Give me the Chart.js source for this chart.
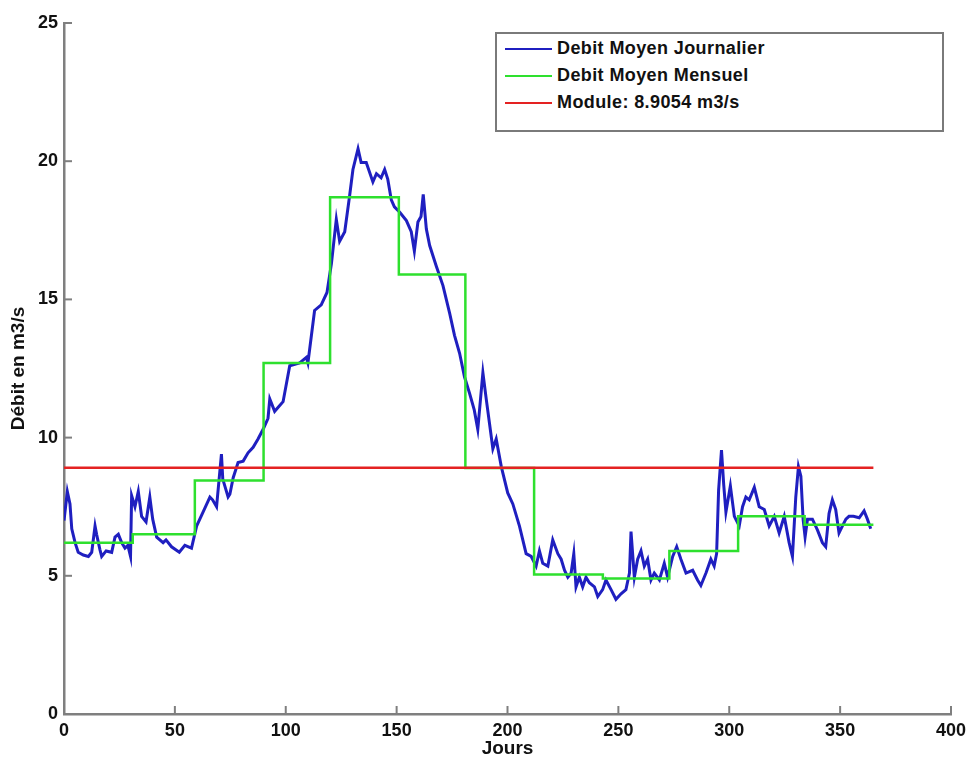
<!DOCTYPE html>
<html>
<head>
<meta charset="utf-8">
<script src="https://cdn.jsdelivr.net/npm/chart.js@4"></script>
<style>
  body { margin: 0; background: #fff; }
  #wrap { position: relative; width: 968px; height: 760px; }
  #legend {
    position: absolute; left: 495px; top: 32px; width: 445px; height: 95px;
    border: 2px solid #7a7a7a; background: #fff; padding-top: 1px;
    font: bold 18px "Liberation Sans", Arial, sans-serif; color: #111; letter-spacing: 0.4px;
  }
  #legend .row { height: 27px; line-height: 27px; white-space: nowrap; }
  #legend .swatch { display: inline-block; width: 47px; height: 2px; margin: 0 5px 0 8px; vertical-align: middle; }
</style>
</head>
<body>
<div id="wrap">
  <canvas id="debitChart" width="968" height="760"></canvas>
  <div id="legend"></div>
</div>
<script>
// debit journalier
const days = [
  0, 1.5, 2.7, 3.5, 5, 6.4, 8.7, 11, 12.5, 14, 14.7, 16.2, 17, 19, 21.5, 23, 24.5, 26, 27.5, 28.8,
  30, 30.5, 32, 33.5, 35, 37, 38.7, 40, 41.8, 44.7, 46, 48.5, 52, 54.5, 57.5, 59.8, 62.7, 65.8, 67, 68.8,
  71, 71.6, 74, 74.8, 76.3, 78.5, 80.8, 83, 85.3, 87.5, 89.8, 92, 92.8, 95, 98.8, 101.8, 106.3, 109.3, 110, 113,
  116, 118.6, 120.6, 122.8, 124.3, 126.6, 128.8, 130.3, 132.6, 134, 136.3, 139.3, 140.9, 143, 144.6, 146, 147.6, 149, 151.4, 154.4,
  156.6, 158, 159.6, 161, 162, 163.4, 164.9, 167.9, 170.9, 173.9, 176.1, 178.4, 180.6, 182.9, 185, 186.6, 188.9, 190.4, 191.9, 193.4,
  194.9, 197.2, 200.1, 202.4, 205.4, 208.4, 210.7, 212.9, 214.4, 215.9, 218.2, 220.4, 222.7, 224.2, 225.7, 227.2, 228.7, 229.9, 230.9, 232.4,
  233.9, 235.4, 236.9, 239.2, 240.7, 242.9, 244.4, 246.7, 248.9, 251.2, 253.4, 255, 255.7, 257.2, 258.7, 260.2, 261.7, 263.2, 264.7, 266.2,
  268.5, 270.7, 272.2, 274.5, 276.3, 278.2, 280.5, 283.5, 285.7, 287.2, 289.5, 291.7, 293.2, 294.3, 295.2, 296.5, 297.5, 298.5, 300.5, 302.3,
  304.5, 306, 307.5, 309, 311.3, 313.5, 315.8, 318, 320.3, 322.5, 324.8, 327, 328.5, 330, 331.2, 332.3, 333.3, 334.2, 335.3, 337.5,
  339.8, 342, 343.5, 345, 346.5, 348, 349.5, 351, 352.6, 354, 356, 358.6, 360.8, 362.3, 363.8
];
const dailyFlow = [
  7.0, 8.05, 7.6, 6.7, 6.2, 5.85, 5.75, 5.7, 5.85, 6.8, 6.5, 5.95, 5.7, 5.9, 5.85, 6.4, 6.5, 6.2, 6.0, 6.1,
  5.7, 7.9, 7.5, 8.05, 7.15, 6.95, 7.85, 7.05, 6.4, 6.2, 6.3, 6.05, 5.85, 6.1, 6.0, 6.8, 7.3, 7.85, 7.75, 7.5,
  9.4, 8.5, 7.85, 7.95, 8.55, 9.1, 9.15, 9.45, 9.65, 9.95, 10.3, 10.7, 11.4, 10.95, 11.3, 12.6, 12.7, 12.9, 12.7, 14.6,
  14.8, 15.25, 16.3, 17.9, 17.1, 17.45, 18.75, 19.7, 20.45, 19.95, 19.95, 19.25, 19.55, 19.4, 19.7, 19.35, 18.6, 18.35, 18.15, 17.85,
  17.45, 16.75, 17.8, 18.0, 18.8, 17.55, 16.95, 16.2, 15.5, 14.5, 13.7, 13.05, 12.2, 11.6, 11.0, 10.3, 12.35, 11.4, 10.5, 9.6,
  9.95, 8.95, 8.0, 7.6, 6.8, 5.8, 5.7, 5.35, 5.9, 5.45, 5.35, 6.3, 5.8, 5.6, 5.2, 4.95, 5.1, 5.8, 4.6, 4.95,
  4.6, 4.95, 4.75, 4.6, 4.25, 4.5, 4.85, 4.5, 4.15, 4.35, 4.5, 5.1, 6.6, 4.95, 5.6, 5.9, 5.35, 5.6, 4.85, 5.1,
  4.85, 5.45, 4.95, 5.7, 6.05, 5.6, 5.1, 5.2, 4.85, 4.65, 5.1, 5.6, 5.35, 5.8, 8.1, 9.55, 8.3, 7.3, 8.25, 7.15,
  6.8, 7.5, 7.85, 7.75, 8.2, 7.5, 7.4, 6.8, 7.15, 6.55, 7.15, 6.2, 5.7, 7.85, 8.95, 8.6, 7.05, 6.4, 7.05, 7.05,
  6.65, 6.2, 6.05, 7.25, 7.75, 7.4, 6.55, 6.8, 7.05, 7.15, 7.15, 7.1, 7.35, 7.05, 6.7
];

// debit moyen mensuel (debut de chaque mois, jour 365 = fin)
const monthStart = [0, 31, 59, 90, 120, 151, 181, 212, 243, 273, 304, 334, 365];
const monthlyFlow = [6.2, 6.5, 8.45, 12.7, 18.7, 15.9, 8.9, 5.05, 4.9, 5.9, 7.15, 6.85, 6.85];

const moduleValue = 8.9054;
const moduleDays = [0, 365];

const xTicks = [0, 50, 100, 150, 200, 250, 300, 350, 400];
const yTicks = [0, 5, 10, 15, 20, 25];

const fontFamily = '"Liberation Sans", Arial, sans-serif';
const axisColor = '#7f7f7f';

const inwardTicks = {
  id: 'inwardTicks',
  afterDraw(chart) {
    const {ctx, chartArea, scales: {x, y}} = chart;
    ctx.save();
    ctx.strokeStyle = axisColor;
    ctx.lineWidth = 2;
    xTicks.forEach(v => {
      const px = x.getPixelForValue(v);
      ctx.beginPath();
      ctx.moveTo(px, chartArea.bottom);
      ctx.lineTo(px, chartArea.bottom - 8);
      ctx.stroke();
    });
    yTicks.forEach(v => {
      const py = y.getPixelForValue(v);
      ctx.beginPath();
      ctx.moveTo(chartArea.left, py);
      ctx.lineTo(chartArea.left + 8, py);
      ctx.stroke();
    });
    ctx.restore();
  }
};

const chart = new Chart(document.getElementById('debitChart'), {
  type: 'scatter',
  data: {
    datasets: [{
      label: 'Debit Moyen Journalier',
      data: days.map((d, i) => ({x: d, y: dailyFlow[i]})),
      showLine: true,
      borderColor: '#1f1fc0',
      borderWidth: 3,
      pointRadius: 0,
      order: 3
    }, {
      label: 'Debit Moyen Mensuel',
      data: monthStart.map((d, i) => ({x: d, y: monthlyFlow[i]})),
      showLine: true,
      stepped: 'before',
      borderColor: '#2ee02e',
      borderWidth: 2.5,
      pointRadius: 0,
      order: 2
    }, {
      label: 'Module: ' + moduleValue + ' m3/s',
      data: moduleDays.map(d => ({x: d, y: moduleValue})),
      showLine: true,
      borderColor: '#e42222',
      borderWidth: 2.5,
      pointRadius: 0,
      order: 1
    }]
  },
  options: {
    responsive: false,
    animation: false,
    devicePixelRatio: 1,
    layout: {padding: {top: 23, right: 17, left: 0, bottom: 0}},
    plugins: {
      legend: {display: false},
      tooltip: {enabled: false}
    },
    scales: {
      x: {
        type: 'linear',
        min: 0, max: 400,
        afterBuildTicks: s => { s.ticks = xTicks.map(v => ({value: v})); },
        afterFit: s => { s.height = 46; s.paddingLeft = 0; s.paddingRight = 0; },
        grid: {display: false, drawTicks: false},
        border: {color: axisColor, width: 2.5},
        ticks: {padding: 6, color: '#111', font: {family: fontFamily, size: 18, weight: 'bold'}, maxRotation: 0},
        title: {display: true, text: 'Jours', color: '#111', padding: {top: 0, bottom: 0},
                font: {family: fontFamily, size: 19, weight: 'bold'}}
      },
      y: {
        type: 'linear',
        min: 0, max: 25,
        afterBuildTicks: s => { s.ticks = yTicks.map(v => ({value: v})); },
        afterFit: s => { s.width = 64; s.paddingTop = 0; s.paddingBottom = 0; },
        grid: {display: false, drawTicks: false},
        border: {color: axisColor, width: 2.5},
        ticks: {padding: 6, color: '#111', font: {family: fontFamily, size: 18, weight: 'bold'}},
        title: {display: true, text: 'Débit en m3/s', color: '#111', padding: {top: 7, bottom: 0},
                font: {family: fontFamily, size: 19, weight: 'bold'}}
      }
    }
  },
  plugins: [inwardTicks]
});

// legende dans un cadre, comme sur la figure
const legendBox = document.getElementById('legend');
chart.data.datasets.forEach(ds => {
  const row = document.createElement('div');
  row.className = 'row';
  const sw = document.createElement('span');
  sw.className = 'swatch';
  sw.style.background = ds.borderColor;
  row.appendChild(sw);
  row.appendChild(document.createTextNode(ds.label));
  legendBox.appendChild(row);
});
</script>
</body>
</html>
